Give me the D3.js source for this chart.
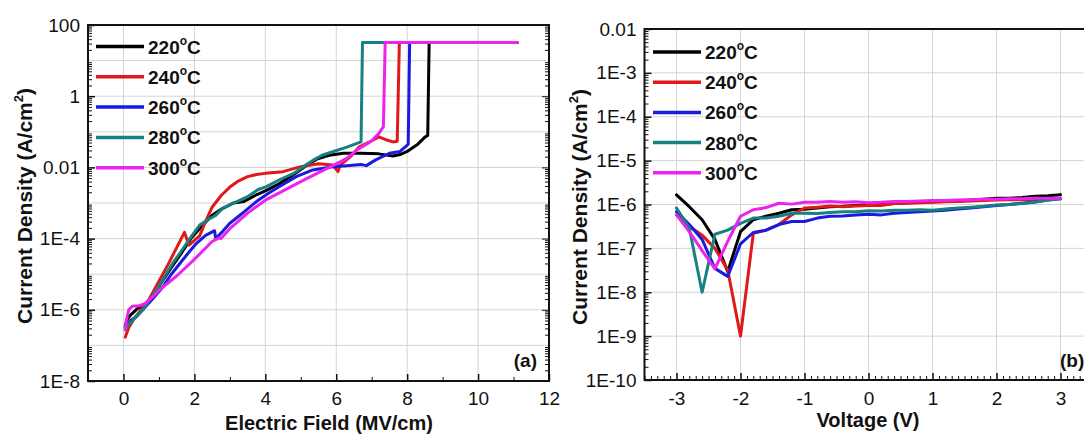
<!DOCTYPE html>
<html>
<head>
<meta charset="utf-8">
<script src="https://cdn.jsdelivr.net/npm/d3@7"></script>
<style>
  html, body { margin: 0; padding: 0; background: #fff; }
  svg { display: block; font-family: "Liberation Sans", Arial, sans-serif; }
</style>
</head>
<body>
<svg id="chart" width="1084" height="434"></svg>
<script>
// ---------- Panel (a): J–E breakdown curves ----------
const seriesNames = ["220", "240", "260", "280", "300"];
const seriesColors = ["#000000", "#e01818", "#1a1ae0", "#178080", "#ee22ee"];

// Electric field (MV/cm) and current density (A/cm^2)
const fieldA220 = [0.05, 0.1, 0.2, 0.4, 0.6, 0.8, 1.0, 1.3, 1.6, 1.9, 2.2, 2.5, 2.8, 3.1, 3.4, 3.75, 4.0, 4.4, 4.8, 5.2, 5.45, 5.8, 6.2, 6.7, 7.2, 7.6, 7.8, 8.0, 8.3, 8.5, 8.58, 8.62, 11.1];
const jA220 = [3.5e-7, 5.2e-7, 7.1e-7, 1.1e-6, 1.3e-6, 2.5e-6, 4.5e-6, 1.3e-5, 3.5e-5, 1.0e-4, 2.2e-4, 4.5e-4, 7.1e-4, 1.0e-3, 1.1e-3, 1.7e-3, 2.2e-3, 3.5e-3, 6.3e-3, 1.2e-2, 1.7e-2, 2.2e-2, 2.5e-2, 2.5e-2, 2.4e-2, 2.1e-2, 2.3e-2, 2.8e-2, 4.5e-2, 7.1e-2, 7.9e-2, 32, 32];

const fieldA240 = [0.05, 0.15, 0.3, 0.5, 0.7, 1.0, 1.25, 1.5, 1.72, 1.8, 1.85, 2.0, 2.15, 2.3, 2.5, 2.75, 3.0, 3.25, 3.5, 3.75, 4.0, 4.5, 5.0, 5.5, 5.9, 6.05, 6.1, 6.4, 6.65, 7.0, 7.2, 7.4, 7.6, 7.72, 7.78, 11.1];
const jA240 = [1.7e-7, 3.2e-7, 5.6e-7, 1.0e-6, 1.8e-6, 6.3e-6, 1.8e-5, 5.6e-5, 1.5e-4, 8.9e-5, 6.6e-5, 8.9e-5, 1.2e-4, 2.8e-4, 7.6e-4, 1.6e-3, 2.8e-3, 4.2e-3, 5.5e-3, 6.3e-3, 6.8e-3, 7.6e-3, 1.05e-2, 1.26e-2, 1.17e-2, 7.6e-3, 1.12e-2, 2.0e-2, 3.8e-2, 5.6e-2, 7.2e-2, 6.0e-2, 5.2e-2, 5.4e-2, 32, 32];

const fieldA260 = [0.05, 0.2, 0.37, 0.66, 0.9, 1.12, 1.35, 1.59, 1.85, 2.06, 2.3, 2.53, 2.57, 2.6, 2.8, 3.0, 3.4, 3.75, 4.1, 4.4, 4.87, 5.34, 5.9, 6.3, 6.7, 6.85, 7.1, 7.5, 7.8, 7.98, 8.03, 8.07, 11.1];
const jA260 = [3.2e-7, 5.0e-7, 6.5e-7, 1.35e-6, 2.5e-6, 4.5e-6, 1.0e-5, 2.0e-5, 4.2e-5, 7.4e-5, 1.2e-4, 1.6e-4, 1.66e-4, 1.0e-4, 1.6e-4, 2.7e-4, 5.6e-4, 1.1e-3, 1.9e-3, 2.9e-3, 5.5e-3, 8.5e-3, 1.05e-2, 1.12e-2, 1.2e-2, 1.12e-2, 1.6e-2, 2.5e-2, 2.8e-2, 4.0e-2, 4.5e-2, 32, 32];

const fieldA280 = [0.05, 0.15, 0.3, 0.55, 0.75, 0.95, 1.2, 1.4, 1.6, 1.8, 2.0, 2.15, 2.4, 2.6, 2.8, 3.0, 3.2, 3.5, 3.8, 4.0, 4.4, 4.8, 5.1, 5.35, 5.6, 5.9, 6.3, 6.7, 6.74, 11.1];
const jA280 = [2.7e-7, 4.0e-7, 5.6e-7, 1.0e-6, 2.0e-6, 3.8e-6, 1.0e-5, 2.1e-5, 4.0e-5, 7.9e-5, 1.5e-4, 2.4e-4, 3.5e-4, 4.5e-4, 7.1e-4, 8.9e-4, 1.1e-3, 1.5e-3, 2.4e-3, 2.8e-3, 4.5e-3, 6.8e-3, 1.1e-2, 1.6e-2, 2.2e-2, 2.75e-2, 3.7e-2, 5.2e-2, 32, 32];

const fieldA300 = [0.05, 0.08, 0.15, 0.25, 0.45, 0.6, 0.8, 1.0, 1.5, 2.0, 2.5, 2.7, 2.75, 3.0, 3.5, 4.0, 4.5, 5.0, 5.5, 6.0, 6.3, 6.6, 6.9, 7.0, 7.1, 7.2, 7.33, 7.38, 11.1];
const jA300 = [2.8e-7, 5.0e-7, 1.0e-6, 1.26e-6, 1.3e-6, 1.5e-6, 2.2e-6, 3.5e-6, 8.9e-6, 2.6e-5, 8.3e-5, 1.05e-4, 1.0e-4, 1.9e-4, 5.2e-4, 1.2e-3, 2.2e-3, 4.0e-3, 7.1e-3, 1.26e-2, 1.8e-2, 3.2e-2, 4.8e-2, 5.6e-2, 7.1e-2, 8.9e-2, 1.4e-1, 32, 32];

const xTicksA = [0, 2, 4, 6, 8, 10, 12];
const xMinorA = [1, 3, 5, 7, 9, 11];
const yTicksA = [1e-8, 1e-6, 1e-4, 1e-2, 1, 100];
const yTickLabelsA = ["1E-8", "1E-6", "1E-4", "0.01", "1", "100"];

// ---------- Panel (b): J–V leakage curves ----------
const voltage = [-3, -2.8, -2.6, -2.4, -2.2, -2.0, -1.8, -1.6, -1.4, -1.2, -1.0, -0.8, -0.6, -0.4, -0.2, 0, 0.2, 0.4, 0.6, 0.8, 1.0, 1.2, 1.4, 1.6, 1.8, 2.0, 2.2, 2.4, 2.6, 2.8, 3.0];
const jB220 = [1.66e-6, 8.9e-7, 4.5e-7, 1.6e-7, 2.95e-8, 2.4e-7, 4.5e-7, 5.4e-7, 6.3e-7, 7.6e-7, 7.8e-7, 8.3e-7, 8.9e-7, 9.1e-7, 9.5e-7, 1.0e-6, 1.0e-6, 1.05e-6, 1.1e-6, 1.12e-6, 1.15e-6, 1.17e-6, 1.2e-6, 1.26e-6, 1.32e-6, 1.38e-6, 1.38e-6, 1.45e-6, 1.55e-6, 1.58e-6, 1.66e-6];
const jB240 = [5.8e-7, 3.2e-7, 2.0e-7, 1.0e-7, 3.2e-8, 1.0e-9, 2.2e-7, 2.6e-7, 3.5e-7, 5.8e-7, 8.3e-7, 8.7e-7, 9.3e-7, 8.9e-7, 9.3e-7, 9.5e-7, 9.5e-7, 1.05e-6, 1.07e-6, 1.1e-6, 1.12e-6, 1.15e-6, 1.17e-6, 1.2e-6, 1.23e-6, 1.26e-6, 1.29e-6, 1.29e-6, 1.32e-6, 1.35e-6, 1.38e-6];
const jB260 = [6.9e-7, 3.5e-7, 1.6e-7, 3.5e-8, 2.3e-8, 1.26e-7, 2.3e-7, 2.6e-7, 3.5e-7, 4.1e-7, 4.1e-7, 4.9e-7, 5.4e-7, 5.5e-7, 5.8e-7, 6.0e-7, 5.8e-7, 6.3e-7, 6.6e-7, 6.8e-7, 7.1e-7, 7.4e-7, 7.9e-7, 8.3e-7, 8.9e-7, 9.5e-7, 1.0e-6, 1.07e-6, 1.15e-6, 1.26e-6, 1.35e-6];
const jB280 = [8.3e-7, 2.9e-7, 1.0e-8, 2.1e-7, 2.6e-7, 3.7e-7, 4.9e-7, 4.9e-7, 5.4e-7, 6.3e-7, 6.3e-7, 6.2e-7, 6.6e-7, 6.8e-7, 6.8e-7, 7.2e-7, 7.1e-7, 7.4e-7, 7.4e-7, 7.6e-7, 7.4e-7, 7.9e-7, 8.3e-7, 8.7e-7, 9.1e-7, 9.8e-7, 1.0e-6, 1.05e-6, 1.12e-6, 1.26e-6, 1.35e-6];
const jB300 = [5.8e-7, 2.4e-7, 8.9e-8, 3.4e-8, 1.45e-7, 5.4e-7, 7.6e-7, 8.5e-7, 1.07e-6, 1.02e-6, 1.12e-6, 1.12e-6, 1.17e-6, 1.12e-6, 1.15e-6, 1.1e-6, 1.12e-6, 1.17e-6, 1.17e-6, 1.2e-6, 1.23e-6, 1.23e-6, 1.26e-6, 1.29e-6, 1.32e-6, 1.32e-6, 1.35e-6, 1.35e-6, 1.38e-6, 1.38e-6, 1.38e-6];

const xTicksB = [-3, -2, -1, 0, 1, 2, 3];
const yTicksB = [1e-10, 1e-9, 1e-8, 1e-7, 1e-6, 1e-5, 1e-4, 1e-3, 1e-2];
const yTickLabelsB = ["1E-10", "1E-9", "1E-8", "1E-7", "1E-6", "1E-5", "1E-4", "1E-3", "0.01"];

// ---------- drawing helpers ----------
const svg = d3.select("#chart");
const FONT = '"Liberation Sans", Arial, sans-serif';
// integer tick labels with a plain hyphen for negatives
const intLabel = d => String(Math.round(d));

function logMinor(lo, hi) {
  const out = [];
  for (let e = lo; e < hi; e++) {
    for (let m = 2; m <= 9; m++) out.push(m * Math.pow(10, e));
  }
  return out;
}

function styleAxis(g, size) {
  g.select(".domain").remove();
  g.selectAll("text").attr("font-size", size).attr("font-family", FONT).attr("fill", "#111");
  g.selectAll("line").attr("stroke", "#111");
}

function drawPanel(cfg) {
  const { x, y, xTicks, xMinor, yTicks, yLabels, xLabelPad, id } = cfg;
  const [x0, x1] = x.range();
  const [yb, yt] = y.range();
  const g = svg.append("g");

  // clip for curves
  svg.append("clipPath").attr("id", id)
    .append("rect").attr("x", x0).attr("y", yt).attr("width", x1 - x0).attr("height", yb - yt);

  // grid
  const grid = g.append("g").attr("stroke", "#d4d4d4").attr("stroke-width", 1);
  grid.selectAll(".vg").data(cfg.xGrid).join("line")
    .attr("x1", d => x(d)).attr("x2", d => x(d)).attr("y1", yt).attr("y2", yb);
  grid.selectAll(".hg").data(cfg.yGrid).join("line")
    .attr("x1", x0).attr("x2", x1).attr("y1", d => y(d)).attr("y2", d => y(d));

  // curves
  const line = d3.line().x(d => x(d[0])).y(d => y(d[1]));
  const curves = g.append("g").attr("clip-path", `url(#${id})`);
  cfg.series.forEach((s, i) => {
    curves.append("path")
      .datum(s.xs.map((v, k) => [v, s.js[k]]))
      .attr("d", line)
      .attr("fill", "none")
      .attr("stroke", seriesColors[i])
      .attr("stroke-width", 3)
      .attr("stroke-linejoin", "round")
      .attr("stroke-linecap", "round");
  });

  // bottom axis: major + minor ticks pointing inward
  const bx = g.append("g").attr("transform", `translate(0,${yb})`)
    .call(d3.axisBottom(x).tickValues(xTicks).tickSize(-7).tickPadding(xLabelPad).tickFormat(intLabel));
  styleAxis(bx, 19);
  bx.selectAll("line").attr("stroke-width", 1.5);
  const bxm = g.append("g").attr("transform", `translate(0,${yb})`)
    .call(d3.axisBottom(x).tickValues(xMinor).tickSize(-4).tickFormat(""));
  styleAxis(bxm, 19);

  // left axis
  const ly = g.append("g").attr("transform", `translate(${x0},0)`)
    .call(d3.axisLeft(y).tickValues(yTicks).tickSize(-7).tickPadding(8)
      .tickFormat((d, i) => yLabels[i]));
  styleAxis(ly, 19);
  ly.selectAll("line").attr("stroke-width", 1.5);
  const lym = g.append("g").attr("transform", `translate(${x0},0)`)
    .call(d3.axisLeft(y).tickValues(cfg.yMinor).tickSize(-4).tickFormat(""));
  styleAxis(lym, 19);

  // mirrored right axis ticks
  if (cfg.rightTicks) {
    const ry = g.append("g").attr("transform", `translate(${x1},0)`)
      .call(d3.axisRight(y).tickValues(yTicks).tickSize(-7).tickFormat(""));
    styleAxis(ry, 19);
    const rym = g.append("g").attr("transform", `translate(${x1},0)`)
      .call(d3.axisRight(y).tickValues(cfg.yMinor).tickSize(-4).tickFormat(""));
    styleAxis(rym, 19);
  }

  // frame
  g.append("rect").attr("x", x0).attr("y", yt).attr("width", x1 - x0).attr("height", yb - yt)
    .attr("fill", "none").attr("stroke", "#111").attr("stroke-width", 2);

  return g;
}

function legend(x0, y0, step) {
  const g = svg.append("g");
  seriesNames.forEach((name, i) => {
    const yy = y0 + i * step;
    g.append("line").attr("x1", x0).attr("x2", x0 + 48).attr("y1", yy).attr("y2", yy)
      .attr("stroke", seriesColors[i]).attr("stroke-width", 3.5);
    const t = g.append("text").attr("x", x0 + 52).attr("y", yy + 7)
      .attr("font-family", FONT).attr("font-weight", "bold").attr("font-size", 19).attr("fill", "#111");
    t.append("tspan").text(name);
    t.append("tspan").attr("font-size", 12).attr("dy", -9).text("o");
    t.append("tspan").attr("dy", 9).text("C");
  });
}

function yTitle(cx, cy) {
  const t = svg.append("text")
    .attr("transform", `translate(${cx},${cy}) rotate(-90)`)
    .attr("text-anchor", "middle")
    .attr("font-family", FONT).attr("font-weight", "bold").attr("font-size", 21).attr("fill", "#111");
  t.append("tspan").text("Current Density (A/cm");
  t.append("tspan").attr("font-size", 13).attr("dy", -9).text("2");
  t.append("tspan").attr("dy", 9).text(")");
}

// ---------- panel (a) ----------
const xA = d3.scaleLinear().domain([-1, 12]).range([88, 549]);
const yA = d3.scaleLog().domain([1e-8, 100]).range([381, 25]);
drawPanel({
  id: "clipA", x: xA, y: yA,
  xTicks: xTicksA, xMinor: xMinorA, xLabelPad: 10.5,
  yTicks: yTicksA, yLabels: yTickLabelsA, yMinor: logMinor(-8, 2),
  xGrid: [0, 2, 4, 6, 8, 10],
  yGrid: [1e-7, 1e-6, 1e-5, 1e-4, 1e-3, 1e-2, 1e-1, 1, 10],
  rightTicks: true,
  series: [
    { xs: fieldA220, js: jA220 },
    { xs: fieldA240, js: jA240 },
    { xs: fieldA260, js: jA260 },
    { xs: fieldA280, js: jA280 },
    { xs: fieldA300, js: jA300 }
  ]
});
legend(96, 46.5, 30.3);
yTitle(32, 206);
svg.append("text").attr("x", 329).attr("y", 430).attr("text-anchor", "middle")
  .attr("font-family", FONT).attr("font-weight", "bold").attr("font-size", 20).attr("fill", "#111")
  .text("Electric Field (MV/cm)");
svg.append("text").attr("x", 537).attr("y", 367).attr("text-anchor", "end")
  .attr("font-family", FONT).attr("font-weight", "bold").attr("font-size", 19).attr("fill", "#111")
  .text("(a)");

// ---------- panel (b) ----------
const xB = d3.scaleLinear().domain([-3.5, 3.5]).range([644.5, 1092.5]);
const yB = d3.scaleLog().domain([1e-10, 1e-2]).range([380, 29]);
const xMinorB = d3.range(-35, 36).map(k => k / 10).filter(v => Math.abs(v - Math.round(v)) > 1e-9);
drawPanel({
  id: "clipB", x: xB, y: yB,
  xTicks: xTicksB, xMinor: xMinorB, xLabelPad: 11.5,
  yTicks: yTicksB, yLabels: yTickLabelsB, yMinor: logMinor(-10, -2),
  xGrid: [-3, -2, -1, 0, 1, 2, 3],
  yGrid: [1e-9, 1e-8, 1e-7, 1e-6, 1e-5, 1e-4, 1e-3],
  rightTicks: false,
  series: [
    { xs: voltage, js: jB220 },
    { xs: voltage, js: jB240 },
    { xs: voltage, js: jB260 },
    { xs: voltage, js: jB280 },
    { xs: voltage, js: jB300 }
  ]
});
legend(653, 52, 30.2);
yTitle(587, 207);
svg.append("text").attr("x", 868).attr("y", 427).attr("text-anchor", "middle")
  .attr("font-family", FONT).attr("font-weight", "bold").attr("font-size", 20).attr("fill", "#111")
  .text("Voltage (V)");
svg.append("text").attr("x", 1060).attr("y", 367)
  .attr("font-family", FONT).attr("font-weight", "bold").attr("font-size", 19).attr("fill", "#111")
  .text("(b)");
</script>
</body>
</html>
